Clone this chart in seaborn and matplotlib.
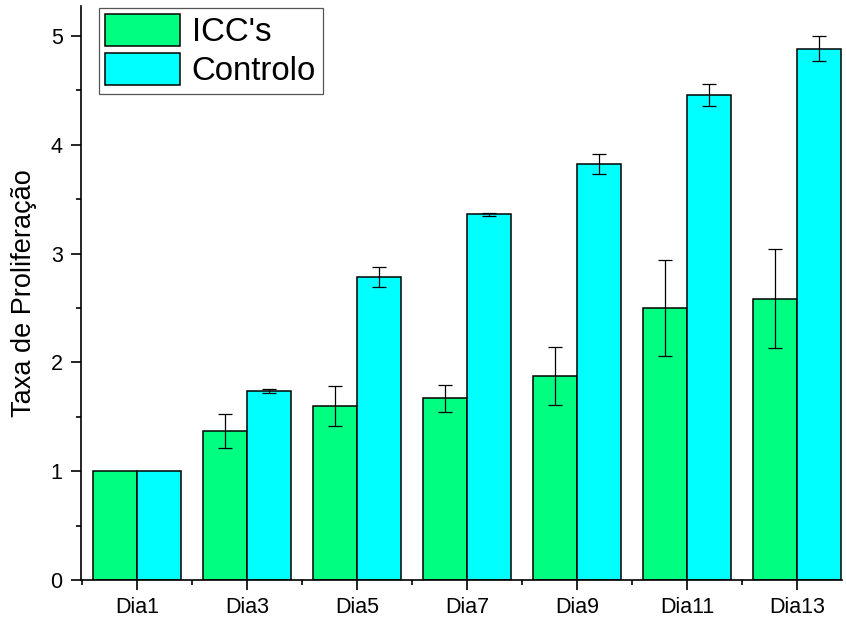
import numpy as np
import pandas as pd
import matplotlib
matplotlib.use("Agg")
from matplotlib import pyplot as plt
from matplotlib.ticker import MultipleLocator, FixedLocator
import seaborn as sns

dias = ['Dia1', 'Dia3', 'Dia5', 'Dia7', 'Dia9', 'Dia11', 'Dia13']
icc = [1.00, 1.37, 1.60, 1.67, 1.875, 2.50, 2.585]
icc_err = [0.0, 0.155, 0.18, 0.125, 0.265, 0.44, 0.455]
controlo = [1.00, 1.74, 2.785, 3.36, 3.825, 4.46, 4.885]
controlo_err = [0.0, 0.02, 0.09, 0.01, 0.095, 0.10, 0.115]
grupos = ["ICC's", 'Controlo']

df = pd.DataFrame({
    'dia': dias * 2,
    'valor': icc + controlo,
    'erro': icc_err + controlo_err,
    'grupo': [grupos[0]] * len(dias) + [grupos[1]] * len(dias),
})

sns.set_style("ticks")
plt.rcParams['font.family'] = ['Liberation Sans', 'DejaVu Sans']
plt.rcParams.update({'text.color': 'black', 'axes.labelcolor': 'black',
                     'xtick.color': 'black', 'ytick.color': 'black',
                     'axes.edgecolor': 'black'})

fig = plt.figure(figsize=(8.46, 6.22), dpi=100)
ax = fig.add_axes([81/846, 42/622, (842-81)/846, (580-6)/622])

sns.barplot(data=df, x='dia', y='valor', hue='grupo', order=dias, hue_order=grupos,
            palette=['#00FF80', '#00FFFF'], edgecolor='black', linewidth=1.1,
            errorbar=None, saturation=1, ax=ax)

# error bars on top of the bars
for cont, g in zip(ax.containers, grupos):
    sub = df[df['grupo'] == g].set_index('dia').loc[dias]
    xs = [b.get_x() + b.get_width() / 2 for b in cont]
    e = sub['erro'].values
    mask = e > 0
    ax.errorbar(np.array(xs)[mask], sub['valor'].values[mask], yerr=e[mask],
                fmt='none', ecolor='black', elinewidth=0.9, capsize=5, capthick=0.9, zorder=5)

ax.set_xlim(-0.51, 6.41)
ax.set_ylim(0, 5.276)
ax.yaxis.set_major_locator(MultipleLocator(1))
ax.yaxis.set_minor_locator(MultipleLocator(0.5))
ax.xaxis.set_minor_locator(FixedLocator(np.arange(-0.5, 6.5, 1)))

sns.despine(ax=ax)
for s in ['left', 'bottom']:
    ax.spines[s].set_linewidth(1.2)
    ax.spines[s].set_color('black')
ax.tick_params(which='major', direction='out', length=7.2, width=1.2, labelsize=15.5,
               pad=5, colors='black')
ax.tick_params(which='minor', direction='out', length=3.6, width=1.2, colors='black')
ax.tick_params(axis='y', which='major', pad=6)

ax.set_xlabel('')
ax.set_ylabel('Taxa de Proliferação', fontsize=19.5, labelpad=10, color='black')

leg = ax.legend(loc='upper left', bbox_to_anchor=(16/761, 1.0), fontsize=23.8,
                frameon=True, fancybox=False, shadow=False, borderaxespad=0.05,
                handlelength=2.25, handleheight=1.1, handletextpad=0.37,
                labelspacing=0.15, borderpad=0.2)
leg.get_frame().set_edgecolor('#555555')
leg.get_frame().set_linewidth(0.9)
leg.get_frame().set_alpha(1)
for t in leg.get_texts():
    t.set_color('black')
for h in leg.legend_handles:
    h.set_edgecolor('black')
    h.set_linewidth(1.1)

fig.savefig('out.png', dpi=100)
